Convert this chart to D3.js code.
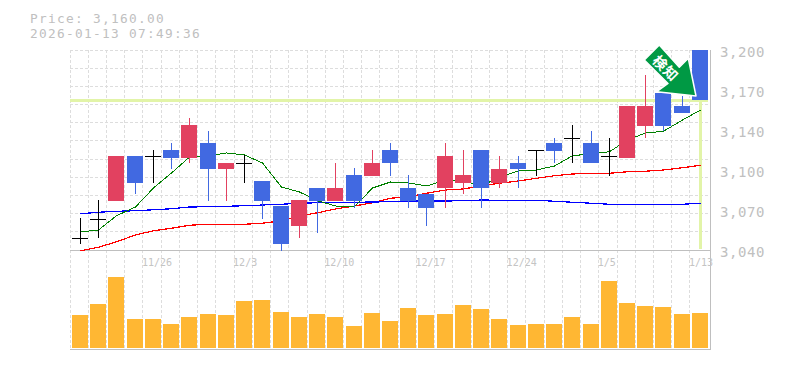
<!DOCTYPE html>
<html>
<head>
<meta charset="utf-8">
<script src="https://cdn.jsdelivr.net/npm/d3@7"></script>
<style>
  html, body { margin: 0; padding: 0; background: #fff; }
  svg { display: block; }
  text { font-family: "DejaVu Sans Mono", "Liberation Mono", monospace; }
</style>
</head>
<body>
<div id="chart"></div>
<script>
const WIDTH = 785, HEIGHT = 370;
const LEFT = 70, RIGHT = 708.2, TOP = 50, MID = 250, BOTTOM = 348;

const dates = ["11/19","11/20","11/21","11/25","11/26","11/27","11/28","12/1","12/2","12/3",
  "12/4","12/5","12/8","12/9","12/10","12/11","12/12","12/15","12/16","12/17",
  "12/18","12/19","12/22","12/23","12/24","12/25","12/26","12/29","12/30","1/5",
  "1/6","1/7","1/8","1/9","1/13"];

// open / close / high / low, blue candles fall, red candles rise
const opens = [3050,3065,3079,3115,3115,3120,3114,3126,3105,3110,3095,3075,3059,3090,3079,3100,3099,3120,
  3090,3085,3090,3094,3120,3094,3110,3120,3126,3130,3126,3115,3114,3139,3166,3155,3200];
const closes = [3050,3065,3115,3094,3115,3114,3140,3105,3110,3110,3079,3045,3080,3079,3090,3079,3110,3110,
  3079,3074,3115,3100,3090,3105,3105,3120,3119,3130,3110,3115,3155,3155,3139,3150,3160];
const highs = [3066,3080,3115,3115,3120,3126,3146,3135,3110,3116,3095,3075,3080,3090,3110,3106,3120,3126,
  3100,3085,3126,3120,3120,3115,3115,3120,3130,3140,3135,3130,3155,3180,3166,3163,3200];
const lows = [3045,3050,3079,3085,3094,3105,3110,3079,3079,3094,3065,3039,3050,3054,3079,3074,3099,3099,
  3074,3059,3074,3085,3074,3090,3090,3099,3110,3110,3110,3099,3114,3130,3135,3150,3160];

const ma5 = [3054.4,3056,3067.4,3074.4,3089.6,3101.6,3114.4,3115.2,3117.6,3116,3109.6,3090.4,3086.4,3079.4,
  3075.2,3074.6,3089.6,3094.4,3093.6,3091.2,3096,3095.2,3091.2,3098.4,3103.2,3104,3107.2,3115.4,3117,3118.6,
  3128,3133.6,3135,3144,3152];
const ma25 = [3069,3070.2,3071,3071.4,3072.2,3073,3074.4,3074.6,3075,3075.4,3076,3076.6,3077.4,3077.8,
  3078.2,3078.2,3078.4,3078.6,3079.2,3079.2,3079.2,3079.4,3080,3079.8,3079.8,3079.8,3079,3078.2,3077.4,3076.6,
  3076.6,3076.6,3076.6,3076.6,3077.4];
const ma75 = [3039.4,3042.2,3046.6,3052,3055.4,3057.4,3059.8,3060.6,3060.6,3060.6,3061.4,3063.4,3067.2,3069.8,
  3072.8,3075.2,3077.8,3081.4,3082.6,3085.4,3088,3088.8,3091.4,3093.4,3095.2,3097.4,3099.4,3100.8,3101.4,3101.4,
  3102.6,3103,3104,3105.8,3107.8];

const volumes = [33,44,71,29,29,24,31,34,33,47,48,36,31,34,31,22,35,27,40,33,34,43,39,29,23,24,24,31,24,67,45,42,41,34,35];

const priceTicks = [3200,3168,3136,3104,3072,3040];
const lastPrice = 3160;
const title = ["Price: 3,160.00", "2026-01-13 07:49:36"];

const x = d3.scaleBand().domain(dates).range([LEFT, RIGHT]);
const y = d3.scaleLinear().domain([3040, 3200]).range([MID, TOP]);
const yVol = d3.scaleLinear().domain([0, 98]).range([BOTTOM, MID]);

const fmt = d3.format(",");
const fmtTick = d => fmt(Math.round(d / 10) * 10);
const cx = d => Math.round(x(d) + 2) + 8;

const BLUE = "#4169e1", RED = "#e24160", ORANGE = "#ffb733", LIME = "#e2f4a8",
  GRID = "#dddddd", FRAME = "#bfbfbf", LABEL = "#c0c0c0";

const svg = d3.select("#chart").append("svg")
  .attr("width", WIDTH)
  .attr("height", HEIGHT);

svg.append("g").selectAll("text")
  .data(title)
  .join("text")
  .attr("x", 30)
  .attr("y", (d, i) => 23 + i * 15)
  .attr("font-size", 12.8)
  .attr("letter-spacing", 1.3)
  .attr("fill", LABEL)
  .text(d => d);

// grid
const grid = svg.append("g")
  .attr("stroke", GRID)
  .attr("stroke-dasharray", "3,2")
  .attr("shape-rendering", "crispEdges");

grid.selectAll(".v")
  .data(dates)
  .join("line")
  .attr("x1", d => Math.floor(x(d)) + 0.5)
  .attr("x2", d => Math.floor(x(d)) + 0.5)
  .attr("y1", TOP)
  .attr("y2", BOTTOM);

grid.selectAll(".h")
  .data(d3.range(0, 11))
  .join("line")
  .attr("x1", LEFT)
  .attr("x2", 708)
  .attr("y1", d => Math.floor(TOP + d * 200 / 11) + 0.5)
  .attr("y2", d => Math.floor(TOP + d * 200 / 11) + 0.5);

// frame
const frame = svg.append("g")
  .attr("stroke", FRAME)
  .attr("shape-rendering", "crispEdges");
frame.append("line").attr("x1", LEFT).attr("x2", 711).attr("y1", MID + 0.5).attr("y2", MID + 0.5);
frame.append("line").attr("x1", LEFT).attr("x2", 711).attr("y1", 349.5).attr("y2", 349.5);
frame.append("line").attr("x1", 710.5).attr("x2", 710.5).attr("y1", TOP).attr("y2", 350);

// last price guide lines
svg.append("line")
  .attr("x1", LEFT).attr("x2", 708)
  .attr("y1", y(lastPrice) + 0.5).attr("y2", y(lastPrice) + 0.5)
  .attr("stroke", LIME).attr("stroke-width", 3)
  .attr("shape-rendering", "crispEdges");
svg.append("line")
  .attr("x1", cx(dates[34]) + 0.5).attr("x2", cx(dates[34]) + 0.5)
  .attr("y1", y(lastPrice)).attr("y2", MID - 1)
  .attr("stroke", LIME).attr("stroke-width", 3)
  .attr("shape-rendering", "crispEdges");

// moving averages sit under the candles
const line = d3.line().x((d, i) => cx(dates[i]) + 0.5).y(d => y(d));
[[ma75, "#ff0000", 1.2], [ma25, "#0000ff", 1.2], [ma5, "#008000", 1]].forEach(([vals, col, w]) => {
  svg.append("path")
    .datum(vals)
    .attr("d", line)
    .attr("fill", "none")
    .attr("stroke", col)
    .attr("stroke-width", w)
    .attr("shape-rendering", "crispEdges");
});

// candles
const candles = svg.append("g")
  .attr("shape-rendering", "crispEdges")
  .selectAll("g")
  .data(dates)
  .join("g");

const candleColor = (d, i) => opens[i] == closes[i] ? "#000" : (closes[i] > opens[i] ? RED : BLUE);

candles.append("line")
  .attr("x1", d => cx(d) + 0.5)
  .attr("x2", d => cx(d) + 0.5)
  .attr("y1", (d, i) => y(highs[i]))
  .attr("y2", (d, i) => y(lows[i]))
  .attr("stroke", candleColor);

candles.append("rect")
  .attr("x", d => cx(d) - 8)
  .attr("y", (d, i) => y(Math.max(opens[i], closes[i])))
  .attr("width", 16)
  .attr("height", (d, i) => Math.max(1, y(Math.min(opens[i], closes[i])) - y(Math.max(opens[i], closes[i]))))
  .attr("fill", candleColor);

// volume
svg.append("g")
  .attr("shape-rendering", "crispEdges")
  .selectAll("rect")
  .data(volumes)
  .join("rect")
  .attr("x", (d, i) => cx(dates[i]) - 8)
  .attr("y", d => yVol(d))
  .attr("width", 16)
  .attr("height", d => BOTTOM - yVol(d))
  .attr("fill", ORANGE);

// axis labels
svg.append("g").selectAll("text")
  .data(priceTicks)
  .join("text")
  .attr("x", 720)
  .attr("y", d => y(d) + 7)
  .attr("font-size", 14)
  .attr("letter-spacing", 0.6)
  .attr("fill", LABEL)
  .text(fmtTick);

svg.append("g").selectAll("text")
  .data(dates.filter((d, i) => i % 5 == 4))
  .join("text")
  .attr("x", d => x(d) - 1)
  .attr("y", 266)
  .attr("font-size", 10)
  .attr("fill", "#c4c4c4")
  .text(d => d);

// signal badge
const badge = svg.append("g");
badge.append("path")
  .attr("d", "M659.3,45L644.3,60L668,83.5L656.7,91.7L696,96L688.3,58.3L679.3,67.3Z")
  .attr("fill", "#009944")
  .attr("stroke", "#fff")
  .attr("stroke-width", 1.5)
  .attr("stroke-linejoin", "round");
badge.append("text")
  .attr("transform", "translate(666.3,67.8) rotate(45)")
  .attr("text-anchor", "middle")
  .attr("dominant-baseline", "central")
  .attr("font-size", 14)
  .attr("letter-spacing", 1)
  .attr("font-weight", "bold")
  .attr("fill", "#fff")
  .style("font-family", '"Noto Sans CJK JP"')
  .text("検知");
</script>
</body>
</html>
